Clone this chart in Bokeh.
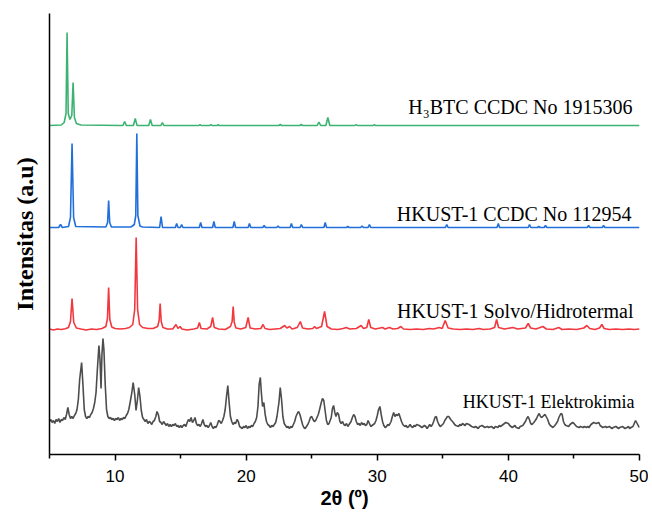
from bokeh.plotting import figure
from bokeh.models import Range1d, Label, FixedTicker
from bokeh.embed import file_html
from bokeh.resources import INLINE

# ---------------- data (intensity in a.u.) ----------------
series_names = ["HKUST-1 Elektrokimia", "HKUST-1  Solvo/Hidrotermal",
                "HKUST-1  CCDC No 112954", "H₃BTC CCDC No 1915306"]
stack_offsets = [0, 125, 227, 329]

green_x = [5.0, 5.9, 6.12, 6.26, 6.34, 6.43, 6.56, 6.7, 6.8, 6.9, 7.05, 7.4,
           10.6, 10.73, 10.86, 11.4, 11.54, 11.68, 12.57, 12.7, 12.83,
           13.5, 13.61, 13.72, 16.4, 16.48, 16.56, 17.23, 17.31, 17.39,
           17.8, 17.87, 17.94, 22.5, 22.6, 22.7, 24.1, 24.2, 24.3,
           25.42, 25.55, 25.68, 26.08, 26.23, 26.38, 28.3, 28.39, 28.48,
           29.7, 29.78, 29.86, 50.0]
green_y = [0, 0.5, 3, 12, 93, 12, 6, 10, 43, 8, 2, 0.5,
           0, 4, 0, 0, 7, 0, 0, 6, 0,
           0, 3, 0, 0, 1, 0, 0, 1, 0,
           0, 1, 0, 0, 1, 0, 0, 1, 0,
           0, 3.5, 0, 0, 8, 0, 0, 1, 0,
           0, 1, 0, 0]

blue_x = [5.0, 5.7, 5.84, 5.98, 6.45, 6.6, 6.72, 6.84, 7.0,
          9.3, 9.43, 9.51, 9.59, 9.72, 11.2, 11.32, 11.47, 11.58, 11.66, 11.74, 11.9, 12.1,
          13.4, 13.51, 13.62, 14.6, 14.7, 14.8, 14.98, 15.08, 15.18,
          16.43, 16.53, 16.63, 17.44, 17.54, 17.64, 18.99, 19.09, 19.19,
          20.15, 20.25, 20.35, 21.27, 21.37, 21.47, 22.33, 22.43, 22.53,
          23.35, 23.45, 23.55, 24.11, 24.21, 24.31, 25.93, 26.03, 26.13,
          27.65, 27.75, 27.85, 28.74, 28.84, 28.94, 29.3, 29.4, 29.5,
          35.2, 35.3, 35.4, 39.13, 39.23, 39.33, 41.51, 41.61, 41.71,
          42.22, 42.32, 42.42, 42.73, 42.83, 42.93, 46.02, 46.12, 46.22,
          47.16, 47.26, 47.36, 50.0]
blue_y = [0, 0, 3, 0, 1, 10, 84, 10, 1,
          0.5, 5, 27, 5, 0.5, 0.5, 1.5, 3, 12, 94, 12, 1.5, 0.5,
          0, 11, 0, 0, 4, 0, 0, 3, 0,
          0, 5, 0, 0, 6, 0, 0, 6, 0,
          0, 4, 0, 0, 2, 0, 0, 1.5, 0,
          0, 4, 0, 0, 3, 0, 0, 5, 0,
          0, 1, 0, 0, 1.5, 0, 0, 3, 0,
          0, 3, 0, 0, 4, 0, 0, 3, 0,
          0, 1, 0, 0, 2, 0, 0, 2, 0,
          0, 2, 0, 0]

red_x = [5.0, 5.3, 5.6, 5.9, 6.2, 6.45, 6.6, 6.72, 6.85, 7.05, 7.4, 7.8, 8.2, 8.6,
         9.0, 9.3, 9.42, 9.51, 9.6, 9.75, 10.0, 10.4, 10.8, 11.1, 11.35, 11.5, 11.61,
         11.72, 11.87, 12.1, 12.5, 12.9, 13.25, 13.36, 13.44, 13.52, 13.65, 14.0, 14.4,
         14.65, 14.8, 14.96, 15.1, 15.5, 16.0, 16.3, 16.43, 16.56, 17.0, 17.3, 17.44,
         17.57, 17.9, 18.4, 18.8, 18.93, 19.01, 19.09, 19.22, 19.6, 19.97, 20.15, 20.3,
         20.7, 21.12, 21.29, 21.44, 21.8, 22.2, 22.6, 22.94, 23.1, 23.32, 23.5, 23.9,
         24.13, 24.3, 24.7, 25.08, 25.22, 25.36, 25.75, 25.98, 26.17, 26.5, 27.0, 27.4,
         27.63, 27.9, 28.4, 28.77, 28.95, 29.2, 29.35, 29.5, 29.85, 30.4, 30.6, 30.92,
         31.2, 31.55, 31.8, 32.0, 32.5, 33.0, 33.5, 33.96, 34.3, 34.72, 34.95, 35.18,
         35.4, 35.8, 36.3, 36.8, 37.3, 37.76, 38.1, 38.6, 38.95, 39.1, 39.25, 39.7,
         40.35, 40.7, 41.3, 41.51, 41.7, 42.1, 42.63, 42.9, 43.4, 43.84, 44.1, 44.6,
         45.2, 45.75, 45.99, 46.2, 46.6, 46.95, 47.13, 47.3, 47.7, 48.2, 48.7, 49.2,
         49.6, 50.0]
red_y = [0.5, -0.5, 0.5, 0, 0.8, 2, 8, 31, 7, 1.5, 0.5, -0.5, 0.5, 0,
         1, 3, 11, 42, 10, 2.5, 1, 0.5, 1, 2, 5, 20, 92,
         20, 5, 2, 1, 1, 3, 9, 26, 8, 2, 0.5, 0.5,
         5, 1, 3, 0.5, -0.5, 0.5, 1.5, 7, 1, 0.5, 3, 12,
         2, 0.5, 0, 3, 8, 23, 7, 1.5, 0.5, 2, 12, 1.5,
         0.5, 1, 5, 1, 0, 0.5, 1, 4, 1.5, 3, 0.5, 2,
         8, 1.5, 0.5, 1, 3, 1, 3, 18, 3, 0.5, 0, 1,
         2, 0.5, 1, 4, 1, 2, 10, 2, 0.5, 2, 0.5, 2,
         0.5, 1, 3, 0.5, 0, 0.5, 0, 1, 0.5, 2, 1, 9,
         1.5, 0.5, 0, 0.5, 0, 1, 0, 0.5, 2, 10, 2, 0.5,
         2, 0.5, 1.5, 6, 1.5, 0.5, 3, 0.5, 0, 2, 0, 0.5,
         0, 1.5, 4, 1, 0, 1.5, 5, 1, 0, 0.5, 0, 0.5,
         0, 0.5]

gray_x = [5.0, 5.1, 5.2, 5.3, 5.4, 5.5, 5.6, 5.7, 5.8, 5.9, 6.0, 6.1, 6.2, 6.3, 6.4,
          6.5, 6.6, 6.7, 6.8, 6.9, 7.0, 7.1, 7.2, 7.3, 7.45, 7.55, 7.65, 7.75, 7.85,
          7.95, 8.05, 8.15, 8.25, 8.35, 8.45, 8.55, 8.65, 8.77, 8.85, 8.93, 9.0, 9.08,
          9.15, 9.25, 9.35, 9.45, 9.55, 9.65, 9.75, 9.85, 9.95, 10.05, 10.15, 10.25,
          10.35, 10.45, 10.55, 10.65, 10.75, 10.85, 10.95, 11.05, 11.15, 11.28, 11.38,
          11.5, 11.6, 11.71, 11.8, 11.9, 12.0, 12.1, 12.2, 12.3, 12.4, 12.5, 12.6, 12.7,
          12.8, 12.9, 13.0, 13.11, 13.2, 13.3, 13.4, 13.5, 13.6, 13.7, 13.8, 13.9, 14.0,
          14.1, 14.2, 14.3, 14.4, 14.5, 14.6, 14.7, 14.8, 14.9, 15.0, 15.1, 15.2, 15.3,
          15.4, 15.5, 15.6, 15.7, 15.8, 15.9, 16.0, 16.1, 16.2, 16.3, 16.4, 16.5, 16.6,
          16.7, 16.8, 16.9, 17.0, 17.1, 17.2, 17.3, 17.4, 17.5, 17.6, 17.7, 17.8, 17.9,
          18.0, 18.1, 18.2, 18.3, 18.4, 18.5, 18.6, 18.7, 18.8, 18.9, 19.0, 19.1, 19.2,
          19.3, 19.4, 19.5, 19.6, 19.7, 19.8, 19.9, 20.0, 20.1, 20.2, 20.3, 20.4, 20.5,
          20.6, 20.7, 20.8, 20.9, 20.99, 21.08, 21.17, 21.25, 21.35, 21.45, 21.55, 21.65,
          21.75, 21.85, 21.95, 22.05, 22.15, 22.25, 22.35, 22.5, 22.6, 22.7, 22.8, 22.9,
          23.0, 23.1, 23.2, 23.3, 23.4, 23.5, 23.6, 23.7, 23.8, 23.9, 24.0, 24.1, 24.2,
          24.3, 24.4, 24.5, 24.6, 24.7, 24.8, 24.9, 25.0, 25.1, 25.2, 25.3, 25.4, 25.5,
          25.6, 25.73, 25.82, 25.92, 26.02, 26.12, 26.22, 26.32, 26.49, 26.58, 26.67,
          26.76, 26.85, 26.95, 27.05, 27.15, 27.25, 27.35, 27.45, 27.55, 27.65, 27.75,
          27.85, 28.0, 28.1, 28.2, 28.3, 28.4, 28.5, 28.6, 28.7, 28.8, 28.9, 29.0, 29.1,
          29.2, 29.3, 29.4, 29.5, 29.6, 29.7, 29.8, 29.9, 30.0, 30.1, 30.2, 30.3, 30.4,
          30.5, 30.6, 30.7, 30.8, 30.9, 31.05, 31.15, 31.25, 31.35, 31.45, 31.55, 31.65,
          31.75, 31.85, 31.95, 32.1, 32.2, 32.3, 32.4, 32.5, 32.6, 32.7, 32.8, 32.9,
          33.0, 33.2, 33.4, 33.5, 33.6, 33.7, 33.8, 33.9, 34.0, 34.1, 34.21, 34.3, 34.4,
          34.5, 34.6, 34.7, 34.8, 34.9, 35.05, 35.15, 35.25, 35.35, 35.45, 35.6, 35.8,
          35.9, 36.0, 36.2, 36.3, 36.4, 36.5, 36.7, 36.8, 37.0, 37.2, 37.4, 37.5, 37.7,
          37.8, 38.0, 38.2, 38.4, 38.5, 38.7, 38.9, 39.0, 39.2, 39.3, 39.4, 39.6, 39.8,
          40.0, 40.1, 40.3, 40.5, 40.6, 40.8, 40.9, 41.1, 41.2, 41.3, 41.4, 41.5, 41.6,
          41.7, 41.8, 41.94, 42.05, 42.15, 42.25, 42.35, 42.45, 42.55, 42.7, 42.8, 43.0,
          43.1, 43.2, 43.3, 43.4, 43.54, 43.65, 43.75, 43.85, 44.0, 44.1, 44.2, 44.3,
          44.4, 44.6, 44.7, 44.9, 45.0, 45.2, 45.4, 45.5, 45.7, 45.8, 45.95, 46.05, 46.15,
          46.3, 46.5, 46.7, 46.9, 47.0, 47.2, 47.4, 47.5, 47.7, 47.9, 48.0, 48.2, 48.4,
          48.5, 48.7, 48.9, 49.05, 49.16, 49.25, 49.35, 49.5, 49.6, 49.7, 49.9, 50.0]
gray_y = [33, 35, 32, 34, 31, 35, 33, 36, 32, 35, 34, 37, 35, 40, 47,
          40, 36, 38, 36, 39, 41, 45, 55, 75, 92, 70, 45, 38, 36,
          38, 37, 40, 42, 46, 52, 62, 85, 109, 95, 66, 100, 116,
          105, 70, 45, 38, 36, 37, 35, 36, 34, 36, 35, 37,
          34, 36, 35, 37, 36, 39, 41, 45, 52, 62, 72, 60,
          44, 55, 67, 58, 44, 37, 35, 33, 35, 31, 33, 32, 30,
          33, 34, 38, 43, 40, 33, 32, 30, 33, 31, 29, 31, 28,
          30, 28, 30, 29, 31, 28, 29, 27, 29, 27, 29, 30, 28,
          32, 35, 33, 37, 32, 34, 37, 31, 29, 30, 28, 31, 35,
          30, 28, 29, 27, 29, 32, 28, 26, 28, 27, 30, 34, 33,
          31, 34, 38, 45, 58, 69, 52, 38, 33, 30, 32, 31, 35,
          33, 28, 27, 26, 28, 27, 29, 26, 28, 27, 29, 28, 31,
          33, 37, 48, 70, 77, 60, 48, 52, 40, 33, 30, 29,
          27, 29, 28, 30, 32, 38, 52, 67, 55, 38, 31, 29,
          27, 28, 26, 28, 27, 30, 33, 38, 41, 43, 40, 35, 30,
          27, 26, 28, 30, 33, 37, 38, 35, 33, 34, 37, 40, 45,
          52, 56, 54, 44, 34, 30, 31, 37, 46, 49, 42, 38,
          42, 40, 33, 31, 33, 30, 29, 31, 28, 30, 33, 37,
          40, 38, 33, 30, 31, 29, 32, 30, 31, 29, 30, 34, 31,
          28, 29, 30, 31, 34, 39, 45, 48, 40, 33, 29, 27, 28,
          30, 29, 33, 38, 42, 38, 40, 39, 41, 37, 33, 30,
          28, 29, 27, 28, 30, 28, 27, 29, 28, 30, 29, 27, 28,
          29, 28, 26, 28, 30, 28, 30, 33, 37, 38, 33, 30, 28,
          29, 31, 34, 36, 38, 38, 35, 32, 30, 29, 28, 30,
          29, 31, 29, 31, 30, 28, 27, 28, 26, 28, 29, 27, 28,
          27, 28, 26, 28, 27, 29, 28, 30, 32, 31, 29, 27, 29,
          27, 26, 28, 29, 31, 33, 36, 38, 35, 31, 30, 32, 34,
          36, 39, 41, 38, 37, 39, 40, 35, 31, 29, 28, 27, 29,
          31, 33, 37, 41, 40, 33, 30, 29, 28, 30, 32, 31,
          28, 27, 28, 27, 28, 27, 28, 27, 30, 32, 31, 32, 29,
          27, 28, 27, 28, 26, 27, 28, 26, 27, 28, 26, 27, 28,
          26, 27, 28, 31, 34, 29, 27, 28, 29, 27, 28, 27]

x_ticks = [10, 20, 30, 40, 50]
x_minor_ticks = [5, 15, 25, 35, 45]

# ---------------- figure ----------------
p = figure(width=648, height=512, x_range=Range1d(5, 50), y_range=Range1d(0, 441),
           output_backend="svg", toolbar_location=None,
           min_border_left=49, min_border_right=9, min_border_top=13, min_border_bottom=58)
p.outline_line_color = None
p.grid.visible = False
p.background_fill_color = "white"
p.border_fill_color = "white"

p.xaxis.ticker = FixedTicker(ticks=x_ticks, minor_ticks=x_minor_ticks)
p.xaxis.major_tick_out = 6
p.xaxis.major_tick_in = 0
p.xaxis.minor_tick_out = 4
p.xaxis.minor_tick_in = 0
p.xaxis.major_label_standoff = 9
p.xaxis.major_label_text_font = "Liberation Sans"
p.xaxis.major_label_text_font_size = "17px"
p.xaxis.major_label_text_color = "black"
p.xaxis.axis_label = "2θ (º)"
p.xaxis.axis_label_text_font = "Liberation Sans"
p.xaxis.axis_label_text_font_style = "bold"
p.xaxis.axis_label_text_font_size = "20px"
p.xaxis.axis_label_text_color = "black"
p.xaxis.axis_label_standoff = 2

p.yaxis.ticker = FixedTicker(ticks=[])
p.yaxis.major_tick_out = 0
p.yaxis.minor_tick_out = 0
p.yaxis.major_tick_in = 0
p.yaxis.minor_tick_in = 0
p.yaxis.major_label_text_font_size = "0px"
p.yaxis.major_label_standoff = 0
p.yaxis.axis_label = "Intensitas (a.u)"
p.yaxis.axis_label_text_font = "Liberation Serif"
p.yaxis.axis_label_text_font_style = "bold"
p.yaxis.axis_label_text_font_size = "24px"
p.yaxis.axis_label_text_color = "black"
p.yaxis.axis_label_standoff = 12

p.axis.axis_line_width = 1.5
p.axis.axis_line_color = "black"
p.axis.major_tick_line_width = 1.5
p.axis.minor_tick_line_width = 1.5

colors = ["#4d4d4d", "#f2383f", "#2170da", "#3cb371"]
xs = [gray_x, red_x, blue_x, green_x]
ys = [gray_y, red_y, blue_y, green_y]
for x, y, off, c in zip(xs, ys, stack_offsets, colors):
    p.line(x, [v + off for v in y], line_color=c, line_width=1.6)

# series labels (right-aligned, just above each trace)
label_specs = [
    (series_names[3], 49.47, 348, "20px"),
    (series_names[2], 49.77, 241, "20px"),
    (series_names[1], 49.92, 144, "20px"),
    (series_names[0], 49.62, 53, "18px"),
]
for txt, lx, ly, fs in label_specs:
    p.add_layout(Label(x=lx, y=ly, text=txt, text_align="right", text_baseline="alphabetic",
                       text_font="Liberation Serif", text_font_size=fs, text_color="black"))

open("out.html", "w").write(file_html(p, INLINE))
